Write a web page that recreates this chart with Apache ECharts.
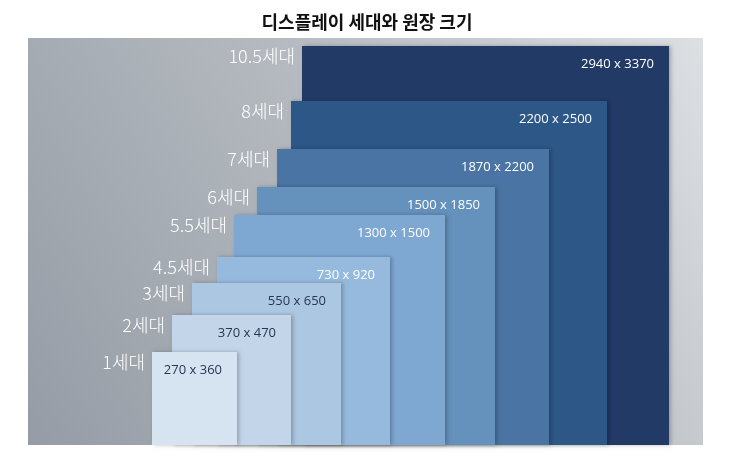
<!DOCTYPE html>
<html><head><meta charset="utf-8">
<script src="https://cdn.jsdelivr.net/npm/echarts@6/dist/echarts.min.js"></script>
<style>html,body{margin:0;padding:0;background:#fff}#c{width:734px;height:453px}</style>
</head><body><div id="c"></div>
<script>
// Schematic layout (drawn largest first)
const generations = ['10.5세대','8세대','7세대','6세대','5.5세대','4.5세대','3세대','2세대','1세대'];
const glassSizes = ['2940 x 3370','2200 x 2500','1870 x 2200','1500 x 1850','1300 x 1500','730 x 920','550 x 650','370 x 470','270 x 360'];
const xLeft  = [302, 291, 277, 257, 234, 217, 192, 172, 152];
const xRight = [669, 607, 549, 495, 445, 390, 341, 291, 237];
const yTop   = [46, 101, 149, 187, 215, 257, 283, 315, 352];
const yBottom = 445;
const colors = ['#223a66','#2d5787','#4a74a3','#6591bd','#7ea8d2','#96bade','#abc7e2','#c3d6e9','#d6e4f2'];
const textColors = ['#fff','#fff','#fff','#fff','#fff','#fff','#2a3550','#2a3550','#2a3550'];

const data = generations.map((g,i)=>[xLeft[i], xRight[i], yTop[i], yBottom]);
const chart = echarts.init(document.getElementById('c'));
chart.setOption({
  animation:false,
  title:{text:'디스플레이 세대와 원장 크기', left:'center', top:8,
    textStyle:{fontFamily:'Noto Sans CJK KR', fontSize:18, fontWeight:'bold', color:'#111'}},
  grid:{left:0,right:0,top:0,bottom:0},
  xAxis:{type:'value',min:0,max:734,show:false},
  yAxis:{type:'value',min:0,max:453,inverse:true,show:false},
  graphic:[{type:'rect',z:-1,shape:{x:28,y:38,width:675,height:407},
    style:{fill:new echarts.graphic.LinearGradient(0,1,1,0,[
      {offset:0,color:'#959ca5'},{offset:0.55,color:'#b6bbc1'},{offset:1,color:'#dde0e3'}])}}],
  series:[{type:'custom', data:data, renderItem:function(params, api){
    const i = params.dataIndex;
    const p0 = api.coord([api.value(0), api.value(2)]);
    const p1 = api.coord([api.value(1), api.value(3)]);
    return {type:'group', children:[
      {type:'rect', shape:{x:p0[0],y:p0[1],width:p1[0]-p0[0],height:p1[1]-p0[1]},
        style:{fill:colors[i], shadowBlur:4, shadowColor:'rgba(0,0,0,0.25)', shadowOffsetX:2}},
      {type:'text', x:p0[0]-7, y:p0[1]+10,
        style:{text:generations[i], align:'right', verticalAlign:'middle', fill:'#fff',
          fontFamily:'Noto Sans CJK KR', fontWeight:300, fontSize:18}},
      {type:'text', x:p1[0]-15, y:p0[1]+18,
        style:{text:glassSizes[i], align:'right', verticalAlign:'middle', fill:textColors[i],
          fontFamily:'Open Sans', fontSize:13}}
    ]};
  }}]
});
</script></body></html>
